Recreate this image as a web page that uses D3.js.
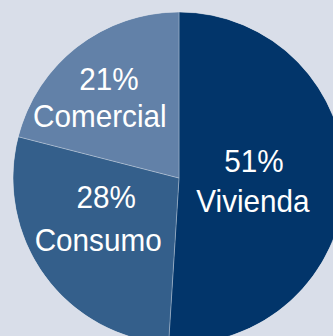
<!DOCTYPE html>
<html>
<head>
<meta charset="utf-8">
<script src="https://cdn.jsdelivr.net/npm/d3@7"></script>
<style>
  html, body { margin: 0; padding: 0; background: #d9dee9; }
  svg { display: block; }
</style>
</head>
<body>
<svg id="chart" width="333" height="336"></svg>
<script>
// Loan portfolio breakdown by segment (share of total, %)
const categories = ["Vivienda", "Consumo", "Comercial"];
const shares = [51, 28, 21];
const percentLabels = ["51%", "28%", "21%"];
const sliceColors = ["#02356a", "#345f8b", "#6281a8"];

// Label placement: shift from the label-arc centroid, per line [dx, dy]
const labelNudge = [
  [[-15, -9], [-16, 31]],
  [[  0, -23], [ -8, 20]],
  [[-15, -17], [-24, 20]]
];

const width = 333, height = 336;
const cx = 179, cy = 178, radius = 166;

const svg = d3.select("#chart");
const g = svg.append("g").attr("transform", `translate(${cx},${cy})`);

const pie = d3.pie().sort(null).value(d => d.value);
const data = categories.map((c, i) => ({ name: c, value: shares[i], label: percentLabels[i], color: sliceColors[i] }));
const arcs = pie(data);

const arc = d3.arc().innerRadius(0).outerRadius(radius);
const labelArc = d3.arc().innerRadius(90).outerRadius(90);

g.selectAll("path.slice")
  .data(arcs)
  .join("path")
  .attr("class", "slice")
  .attr("d", arc)
  .attr("fill", d => d.data.color)
  .attr("stroke", "rgba(255,255,255,0.35)")
  .attr("stroke-width", 0.8)
  .attr("stroke-linejoin", "round");

// Cover the outer stroke so only the radial separators stay visible
g.append("circle")
  .attr("r", radius)
  .attr("fill", "none")
  .attr("stroke", "#d9dee9")
  .attr("stroke-width", 0.8)
  .attr("transform", "scale(1.0024)");

const labels = g.selectAll("g.label")
  .data(arcs)
  .join("g")
  .attr("class", "label")
  .attr("transform", d => {
    const [x, y] = labelArc.centroid(d);
    return `translate(${x},${y})`;
  });

labels.each(function (d, i) {
  const sel = d3.select(this);
  const lines = [d.data.label, d.data.name];
  lines.forEach((t, j) => {
    sel.append("text")
      .attr("transform", `translate(${labelNudge[i][j][0]},${labelNudge[i][j][1]}) scale(0.99,1.07)`)
      .attr("text-anchor", "middle")
      .attr("fill", "#ffffff")
      .attr("font-family", "'Liberation Sans', Arial, sans-serif")
      .attr("font-size", 30)
      .text(t);
  });
});
</script>
</body>
</html>
